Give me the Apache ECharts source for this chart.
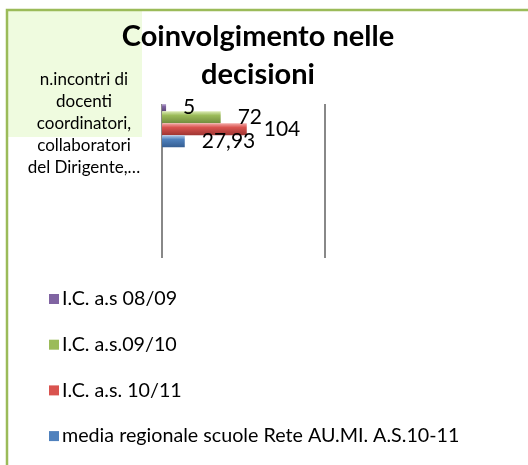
<!DOCTYPE html>
<html>
<head>
<meta charset="utf-8">
<script src="https://cdn.jsdelivr.net/npm/echarts@6/dist/echarts.min.js"></script>
<style>
  html, body { margin: 0; padding: 0; background: #fff; }
  #chart { width: 528px; height: 465px; }
</style>
</head>
<body>
<div id="chart"></div>
<script>
// Chart content
const titleText = 'Coinvolgimento nelle\ndecisioni';
const categories = ['n.incontri di\ndocenti\ncoordinatori,\ncollaboratori\ndel Dirigente,…'];
const seriesNames = [
  'I.C. a.s 08/09',
  'I.C. a.s.09/10',
  'I.C. a.s. 10/11',
  'media regionale scuole Rete AU.MI. A.S.10-11'
];
const valuesIC0809 = [5];
const valuesIC0910 = [72];
const valuesIC1011 = [104];
const valuesMediaRete = [27.93];
const valueAxisTicks = [0, 200];

const FONT = 'Lato, "Open Sans", sans-serif';

// base colours per series, plus light/dark tones for the bevelled bar look
const baseColors = ['#8064A2', '#9BBB59', '#D9534F', '#4F81BD'];
const lightColors = ['#C3B3D8', '#DCEBB5', '#F4AAA8', '#B4CDEB'];
const darkColors = ['#5B4676', '#728C3E', '#9E3532', '#355E92'];

function shade(top, mid, bottom) {
  return new echarts.graphic.LinearGradient(0, 0, 0, 1, [
    { offset: 0, color: top },
    { offset: 0.35, color: mid },
    { offset: 1, color: bottom }
  ]);
}

const seriesData = [valuesIC0809, valuesIC0910, valuesIC1011, valuesMediaRete];

function fmt(v) {
  return String(v).replace('.', ',');
}

const chart = echarts.init(document.getElementById('chart'), null, { renderer: 'canvas' });

chart.setOption({
  animation: false,
  backgroundColor: '#ffffff',
  title: {
    text: titleText,
    left: 253,
    top: 13,
    textAlign: 'center',
    textStyle: {
      fontFamily: FONT,
      fontWeight: 'bold',
      fontSize: 29,
      lineHeight: 38,
      color: '#000'
    }
  },
  graphic: [
    {
      type: 'rect',
      z: -10,
      shape: { x: 8, y: 11, width: 134, height: 126 },
      style: { fill: '#EFFBDF' },
      silent: true
    },
    {
      type: 'rect',
      z: 100,
      shape: { x: 7, y: 10, width: 800, height: 800 },
      style: { fill: 'none', stroke: '#9BBB59', lineWidth: 2.5 },
      silent: true
    }
  ],
  legend: {
    orient: 'vertical',
    left: 49,
    top: 289,
    padding: 0,
    itemWidth: 10,
    itemHeight: 10,
    itemGap: 25.7,
    icon: 'path://M0,0H10V10H0Z',
    data: seriesNames.map((name, i) => ({
      name: name,
      itemStyle: { color: baseColors[i], borderWidth: 0 }
    })),
    textStyle: {
      fontFamily: FONT,
      fontSize: 19.7,
      lineHeight: 20,
      color: '#000',
      padding: [0, 0, 0, -2]
    }
  },
  grid: {
    left: 162,
    right: 203,
    top: 104,
    height: 154,
    containLabel: false
  },
  xAxis: {
    type: 'value',
    min: valueAxisTicks[0],
    max: valueAxisTicks[1],
    interval: valueAxisTicks[1] - valueAxisTicks[0],
    axisLine: { show: false },
    axisTick: { show: false },
    axisLabel: { show: false },
    splitLine: { show: true, lineStyle: { color: '#888888', width: 2 } }
  },
  yAxis: {
    type: 'category',
    data: categories,
    inverse: true,
    max: 2.85,
    axisLine: { show: false },
    axisTick: { show: false },
    axisLabel: {
      margin: 78,
      align: 'center',
      fontFamily: FONT,
      fontSize: 17,
      lineHeight: 22,
      color: '#000'
    }
  },
  series: seriesNames.map((name, i) => ({
    name: name,
    type: 'bar',
    data: seriesData[i],
    barWidth: 12,
    barGap: '0%',
    itemStyle: { color: shade(lightColors[i], baseColors[i], darkColors[i]) },
    label: {
      show: true,
      position: 'right',
      distance: 17,
      fontFamily: FONT,
      fontSize: 21,
      color: '#000',
      formatter: (p) => fmt(p.value)
    }
  }))
});
</script>
</body>
</html>
